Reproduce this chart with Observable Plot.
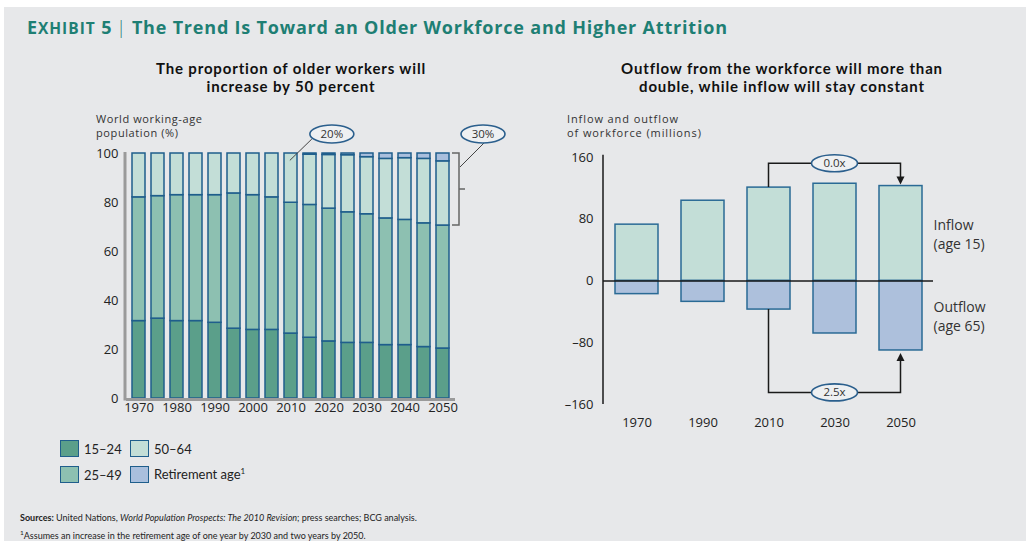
<!DOCTYPE html>
<html><head><meta charset="utf-8">
<script src="https://cdn.jsdelivr.net/npm/d3@7"></script>
<script src="https://cdn.jsdelivr.net/npm/@observablehq/plot@0.6"></script>
<style>
body{margin:0;background:#fff;font-family:"Open Sans",Lato,sans-serif;color:#222;}
#page{position:relative;width:1026px;height:541px;overflow:hidden;background:#fff;}
#bg{position:absolute;left:4px;top:7px;right:0;bottom:0;background:#e7e8ea;}
.abs{position:absolute;}
#title{left:27px;top:16px;font-size:18px;font-weight:700;color:#1e7f74;white-space:nowrap;line-height:22px;letter-spacing:0.8px;}
#title .sc{font-size:15.5px;letter-spacing:1px;}
#title .bar{font-weight:300;margin:0 5px 0 4px;}
.sub{font-family:Lato,"Open Sans",sans-serif;font-size:15px;font-weight:700;color:#111;text-align:center;line-height:18px;white-space:nowrap;letter-spacing:0.85px;}
.ylab{font-size:11px;color:#333;line-height:14px;white-space:nowrap;}
#legend{left:60px;top:440px;display:grid;grid-template-rows:17px 17px;grid-auto-flow:column;grid-auto-columns:70px;row-gap:9px;font-size:13px;font-family:Lato,"Open Sans",sans-serif;}
#legend .item{display:flex;align-items:center;white-space:nowrap;}
#legend .sw{width:17px;height:15px;border:1.5px solid #1f5e8c;margin-right:5px;flex-shrink:0;}
#foot{left:20px;top:510px;font-size:9px;color:#222;line-height:15px;white-space:nowrap;font-family:Lato,"Open Sans",sans-serif;}
svg{overflow:visible;}
</style></head><body>
<div id="page"><div id="bg"></div>
<div class="abs" id="title">E<span class="sc">XHIBIT</span> 5<span class="bar">|</span>The Trend Is Toward an Older Workforce and Higher Attrition</div>
<div class="abs sub" style="left:91px;top:59px;width:400px;">The proportion of older workers will<br>increase by 50 percent</div>
<div class="abs sub" style="left:582px;top:59px;width:400px;">Outflow from the workforce will more than<br>double, while inflow will stay constant</div>
<div class="abs ylab" style="left:96px;top:112px;letter-spacing:0.6px;">World working-age<br>population (%)</div>
<div class="abs ylab" style="left:567px;top:112px;letter-spacing:0.9px;">Inflow and outflow<br>of workforce (millions)</div>
<div class="abs" id="leftChart" style="left:90px;top:110px;"></div>
<div class="abs" id="rightChart" style="left:540px;top:140px;"></div>
<div class="abs" id="legend"></div>
<div class="abs" id="foot"><b>Sources:</b> United Nations, <i>World Population Prospects: The 2010 Revision</i>; press searches; BCG analysis.<br><sup style="font-size:6.5px">1</sup>Assumes an increase in the retirement age of one year by 2030 and two years by 2050.</div>
</div>
<script>
// ---------- Data: left chart ----------
const years = [1970,1975,1980,1985,1990,1995,2000,2005,2010,2015,2020,2025,2030,2035,2040,2045,2050];
const labeledYears = [1970,1980,1990,2000,2010,2020,2030,2040,2050];
const ageGroups = ["15–24","25–49","50–64","Retirement age"];
const share15to24 = [31.6,32.6,31.6,31.6,30.9,28.5,28.0,28.0,26.5,24.8,23.3,22.7,22.7,21.8,21.8,21.0,20.4];
const share25to49 = [50.5,50.0,51.4,51.4,52.1,55.2,55.0,54.1,53.4,54.2,54.2,53.3,52.5,51.7,51.1,50.5,50.2];
const shareRetire = [0,0,0,0,0,0,0,0,0,0.5,0.6,0.7,1.5,2.2,1.9,2.2,3.2];
const share50to64 = years.map((_,i)=> +(100 - share15to24[i] - share25to49[i] - shareRetire[i]).toFixed(1));
const leftYTicks = [0,20,40,60,80,100];
const leftCallouts = ["20%","30%"];
const calloutYears = [2010,2050];

// ---------- Data: right chart ----------
const flowYears = ["1970","1990","2010","2030","2050"];
const inflow = [73,104,121,126,123];
const outflow = [-17,-27,-37,-68,-90];
const rightYTicks = [-160,-80,0,80,160];
const flowLabels = ["Inflow\n(age 15)","Outflow\n(age 65)"];
const ratioLabels = ["0.0x","2.5x"];
const bracketLevels = [152,-145];

// ---------- Styles ----------
const groupColors = ["#5b9f8a","#8dc0b1","#c3ded7","#a9bfdd"];
const barStroke = "#1f5e8c";
const font = "'Open Sans', Lato, sans-serif";

// Legend
const legend = document.getElementById("legend");
ageGroups.forEach((g,i)=>{
  const it = document.createElement("div"); it.className="item";
  const sw = document.createElement("div"); sw.className="sw"; sw.style.background=groupColors[i];
  const tx = document.createElement("span");
  tx.innerHTML = g + (g==="Retirement age" ? "<sup style='font-size:8px'>1</sup>" : "");
  it.appendChild(sw); it.appendChild(tx); legend.appendChild(it);
});

// ---------- Left chart ----------
const series = [share15to24, share25to49, share50to64, shareRetire];
const leftData = [];
years.forEach((yr,i)=> ageGroups.forEach((g,j)=> leftData.push({year:yr, group:g, value:series[j][i]})));

const left = Plot.plot({
  width:440, height:320, marginLeft:36, marginRight:75, marginTop:43, marginBottom:32,
  style:{background:"transparent", fontFamily:font, fontSize:"13px", color:"#222", overflow:"visible"},
  x:{type:"band", domain:years, paddingInner:0.3, paddingOuter:0.04, tickSize:0, tickPadding:4,
     tickFormat:d=> labeledYears.includes(d) ? String(d) : "", label:null},
  y:{domain:[0,100], ticks:leftYTicks, tickSize:0, tickPadding:8, label:null},
  color:{domain:ageGroups, range:groupColors},
  marks:[
    Plot.barY(leftData, {x:"year", y:"value", fill:"group", stroke:barStroke, strokeWidth:1.5}),
    Plot.ruleY([0], {stroke:"#9a9a9a", strokeWidth:3, dy:1})
  ]
});
document.getElementById("leftChart").appendChild(left);
{
  const sx = left.scale("x"), sy = left.scale("y"), bw = sx.bandwidth;
  const g = d3.select(left).append("g");
  g.append("line").attr("x1",sx.range[0]-1).attr("x2",sx.range[0]-1)
    .attr("y1",sy.apply(100)-1).attr("y2",sy.apply(0)+2.5)
    .attr("stroke","#9a9a9a").attr("stroke-width",3);
  const i0 = years.indexOf(calloutYears[0]);
  const tx = sx.apply(calloutYears[0]) + bw*0.45, ty = sy.apply(100 - share50to64[i0]*0.15);
  const ex = tx + 42, ey = sy.apply(100) - 19;
  g.append("line").attr("x1",tx).attr("y1",ty).attr("x2",ex-20).attr("y2",ey+5).attr("stroke","#444").attr("stroke-width",1);
  g.append("ellipse").attr("cx",ex).attr("cy",ey).attr("rx",22).attr("ry",9)
    .attr("fill","#eef0f2").attr("stroke","#2b5f8d").attr("stroke-width",1.6);
  g.append("text").attr("x",ex).attr("y",ey).attr("dy","0.35em").attr("text-anchor","middle")
    .attr("font-size",11.5).attr("fill","#333").text(leftCallouts[0]);
  const i1 = years.indexOf(calloutYears[1]);
  const bx0 = sx.apply(calloutYears[1]) + bw + 3, bx1 = bx0 + 7;
  const by0 = sy.apply(100), by1 = sy.apply(share15to24[i1] + share25to49[i1]);
  g.append("path").attr("d",`M${bx0},${by0}H${bx1}V${by1}H${bx0}M${bx1},${(by0+by1)/2}h6`)
    .attr("fill","none").attr("stroke","#666").attr("stroke-width",1.5);
  const ex2 = bx1 + 24, ey2 = ey;
  g.append("line").attr("x1",bx1+1).attr("y1",by0+14).attr("x2",ex2+1).attr("y2",ey2+9).attr("stroke","#444").attr("stroke-width",1);
  g.append("ellipse").attr("cx",ex2).attr("cy",ey2).attr("rx",22).attr("ry",9)
    .attr("fill","#eef0f2").attr("stroke","#2b5f8d").attr("stroke-width",1.6);
  g.append("text").attr("x",ex2).attr("y",ey2).attr("dy","0.35em").attr("text-anchor","middle")
    .attr("font-size",11.5).attr("fill","#333").text(leftCallouts[1]);
}

// ---------- Right chart ----------
const rightData = flowYears.map((y,i)=>({year:y, inflow:inflow[i], outflow:outflow[i]}));
const last = rightData[rightData.length-1];
const labelData = [{t:flowLabels[0], y:last.inflow/2},{t:flowLabels[1], y:last.outflow/2}];
const right = Plot.plot({
  width:480, height:300, marginLeft:63, marginRight:87, marginTop:17, marginBottom:36,
  style:{background:"transparent", fontFamily:font, fontSize:"13px", color:"#222", overflow:"visible"},
  x:{type:"band", domain:flowYears, paddingInner:0.35, paddingOuter:0.17, tickSize:0, tickPadding:13, label:null},
  y:{domain:[-160,160], ticks:rightYTicks, tickSize:0, tickPadding:10, label:null, tickFormat:d=> d<0 ? "–"+Math.abs(d) : String(d)},
  marks:[
    Plot.barY(rightData, {x:"year", y:"inflow", fill:"#c3ded7", stroke:"#2a6a95", strokeWidth:1.5}),
    Plot.barY(rightData, {x:"year", y:"outflow", fill:"#adc0dc", stroke:"#2a6a95", strokeWidth:1.5}),
    Plot.ruleY([0], {stroke:"#1a1a1a", strokeWidth:1.5}),
    Plot.text(labelData, {y:"y", text:"t", frameAnchor:"right", textAnchor:"start", dx:0, lineHeight:1.35, fontSize:14, fill:"#333"})
  ]
});
document.getElementById("rightChart").appendChild(right);
{
  const sx = right.scale("x"), sy = right.scale("y"), bw = sx.bandwidth;
  const g = d3.select(right).append("g");
  const cx = k => sx.apply(flowYears[k]) + bw/2;
  g.append("line").attr("x1",sx.range[0]).attr("x2",sx.range[0]).attr("y1",sy.apply(163)).attr("y2",sy.apply(-160))
    .attr("stroke","#1a1a1a").attr("stroke-width",1.5);
  const a = 2, b = 4, m = 3;
  const yT = sy.apply(bracketLevels[0]);
  const tipT = sy.apply(inflow[b]) - 1;
  g.append("path").attr("d",`M${cx(a)},${sy.apply(inflow[a])}V${yT}H${cx(b)}V${tipT-6}`)
    .attr("fill","none").attr("stroke","#1a1a1a").attr("stroke-width",1.5);
  g.append("path").attr("d",`M${cx(b)-4},${tipT-8}L${cx(b)+4},${tipT-8}L${cx(b)},${tipT}Z`).attr("fill","#1a1a1a");
  const yB = sy.apply(bracketLevels[1]);
  const tipB = sy.apply(outflow[b]) + 3;
  g.append("path").attr("d",`M${cx(a)},${sy.apply(outflow[a])}V${yB}H${cx(b)}V${tipB+6}`)
    .attr("fill","none").attr("stroke","#1a1a1a").attr("stroke-width",1.5);
  g.append("path").attr("d",`M${cx(b)-4},${tipB+8}L${cx(b)+4},${tipB+8}L${cx(b)},${tipB}Z`).attr("fill","#1a1a1a");
  [yT,yB].forEach((yy,k)=>{
    g.append("ellipse").attr("cx",cx(m)).attr("cy",yy).attr("rx",23).attr("ry",8.5)
      .attr("fill","#eef0f2").attr("stroke","#2b5f8d").attr("stroke-width",1.6);
    g.append("text").attr("x",cx(m)).attr("y",yy).attr("dy","0.35em").attr("text-anchor","middle")
      .attr("font-size",11.5).attr("fill","#333").text(ratioLabels[k]);
  });
}
</script>
</body></html>
